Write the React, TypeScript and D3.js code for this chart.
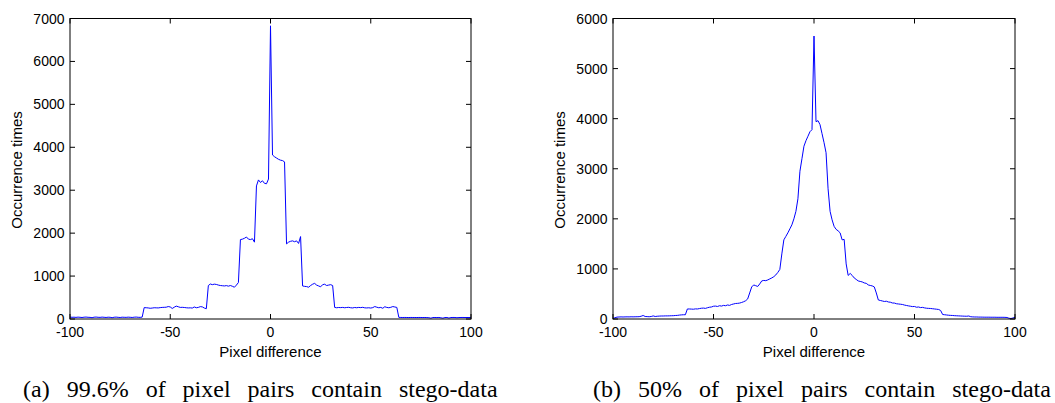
import React from "react";
import * as d3 from "d3";

// Pixel differences -100..100 (integer steps)
const xMin = -100;
const xMax = 100;

// (a) 99.6% of pixel pairs contain stego-data
const countsA: number[] = [
  // -100 .. -64
  45, 40, 42, 38, 44, 40, 35, 42, 45, 40, 38, 30, 42, 45, 40, 38, 44, 40, 36, 42,
  40, 30, 41, 44, 39, 35, 42, 40, 38, 43, 40, 36, 42, 45, 40, 38, 44,
  // -63 .. -32
  265, 262, 258, 250, 255, 262, 260, 258, 265, 270, 272, 275, 290, 280, 245, 275,
  300, 285, 270, 272, 268, 262, 258, 260, 255, 280, 262, 270, 288, 282, 255, 240,
  // -31 .. -16
  780, 815, 800, 812, 805, 790, 780, 775, 770, 778, 765, 780, 762, 740, 790, 850,
  // -15 .. -8
  1850, 1860, 1880, 1910, 1860, 1850, 1870, 1790,
  // -7 .. -1
  3100, 3240, 3180, 3220, 3160, 3150, 3260,
  // 0
  6830,
  // 1 .. 7
  3820, 3780, 3750, 3720, 3700, 3690, 3660,
  // 8 .. 15
  1750, 1790, 1810, 1820, 1800, 1820, 1760, 1920,
  // 16 .. 31
  770, 760, 755, 740, 780, 810, 830, 790, 770, 750, 800, 810, 780, 790, 800, 780,
  // 32 .. 63
  270, 262, 268, 265, 270, 262, 268, 272, 262, 258, 268, 262, 270, 265, 272, 260,
  258, 262, 255, 265, 290, 275, 262, 270, 250, 285, 270, 262, 272, 290, 280, 270,
  // 64 .. 100
  38, 36, 35, 36, 35, 34, 36, 35, 35, 34, 36, 35, 34, 35, 33, 30, 20, 34, 35, 33,
  36, 28, 20, 34, 35, 22, 34, 36, 35, 30, 34, 35, 36, 34, 35, 34, 36,
];

// (b) 50% of pixel pairs contain stego-data
const countsB: number[] = [
  // -100 .. -64
  10, 25, 38, 40, 42, 40, 42, 43, 42, 44, 43, 44, 45, 46, 55, 70, 50, 48, 45, 50,
  62, 50, 55, 58, 60, 60, 62, 62, 63, 65, 66, 70, 72, 78, 82, 85, 85,
  // -63 .. -32
  200, 200, 198, 195, 202, 200, 208, 215, 218, 212, 225, 235, 240, 255, 258, 250,
  265, 258, 272, 265, 280, 272, 290, 300, 310, 312, 318, 330, 345, 365, 400, 520,
  // -31 .. -16
  640, 680, 665, 650, 700, 760, 770, 765, 780, 800, 820, 845, 880, 930, 990, 1300,
  // -15 .. -1
  1580, 1650, 1720, 1800, 1880, 2000, 2150, 2400, 2950, 3200, 3450, 3560, 3650, 3740, 3780,
  // 0
  5650,
  // 1 .. 15
  3940, 3960, 3880, 3700, 3520, 3320, 2600, 2150, 1980, 1850, 1790, 1760, 1720, 1580, 1590,
  // 16 .. 31
  1100, 870, 910, 870, 820, 790, 760, 750, 740, 720, 712, 680, 670, 660, 640, 520,
  // 32 .. 63
  380, 370, 360, 350, 355, 340, 335, 320, 318, 305, 300, 295, 290, 278, 270, 262,
  255, 248, 250, 235, 240, 228, 232, 222, 215, 212, 210, 205, 200, 195, 190, 170,
  // 64 .. 100
  90, 85, 80, 75, 72, 70, 66, 64, 62, 60, 58, 56, 55, 60, 45, 42, 40, 40, 38, 38,
  37, 36, 36, 36, 35, 35, 35, 34, 34, 34, 34, 33, 30, 15, 10, 20, 35,
];

const xTicks = [-100, -50, 0, 50, 100];
const yTicksA = [0, 1000, 2000, 3000, 4000, 5000, 6000, 7000];
const yTicksB = [0, 1000, 2000, 3000, 4000, 5000, 6000];
const yMaxA = 7000;
const yMaxB = 6000;

const xLabel = "Pixel difference";
const yLabel = "Occurrence times";
const captionA = "(a) 99.6% of pixel pairs contain stego-data";
const captionB = "(b) 50% of pixel pairs contain stego-data";

const SANS = "'Liberation Sans', Arial, Helvetica, sans-serif";
const SERIF = "'Liberation Serif', 'Times New Roman', serif";

type PanelProps = {
  left: number;
  right: number;
  values: number[];
  yMax: number;
  yTicks: number[];
  yLabelX: number;
  caption: string;
  captionX: number;
};

function Panel({ left, right, values, yMax, yTicks, yLabelX, caption, captionX }: PanelProps) {
  const top = 18.5;
  const bottom = 319;
  const x = d3.scaleLinear().domain([xMin, xMax]).range([left, right]);
  const y = d3.scaleLinear().domain([0, yMax]).range([bottom, top]);
  const data = values.map((v, i) => ({ px: xMin + i, v }));
  const line = d3
    .line<{ px: number; v: number }>()
    .x((d) => x(d.px))
    .y((d) => y(d.v));
  const tl = 5;
  return (
    <g>
      <path d={line(data) || ""} fill="none" stroke="#0000ff" strokeWidth={1} />
      <rect
        x={left}
        y={top}
        width={right - left}
        height={bottom - top}
        fill="none"
        stroke="#000"
        strokeWidth={1}
      />
      {xTicks.map((t) => (
        <g key={"x" + t}>
          <line x1={x(t)} x2={x(t)} y1={bottom} y2={bottom - tl} stroke="#000" />
          <line x1={x(t)} x2={x(t)} y1={top} y2={top + tl} stroke="#000" />
          <text
            x={x(t)}
            y={337}
            textAnchor="middle"
            fontFamily={SANS}
            fontSize={14}
            fill="#000"
          >
            {t}
          </text>
        </g>
      ))}
      {yTicks.map((t) => (
        <g key={"y" + t}>
          <line x1={left} x2={left + tl} y1={y(t)} y2={y(t)} stroke="#000" />
          <line x1={right} x2={right - tl} y1={y(t)} y2={y(t)} stroke="#000" />
          <text
            x={left - 5.5}
            y={y(t)}
            dy="0.36em"
            textAnchor="end"
            fontFamily={SANS}
            fontSize={14}
            fill="#000"
          >
            {t}
          </text>
        </g>
      ))}
      <text
        x={(left + right) / 2}
        y={357}
        textAnchor="middle"
        fontFamily={SANS}
        fontSize={15}
        fill="#000"
      >
        {xLabel}
      </text>
      <text
        transform={`translate(${yLabelX},170) rotate(-90)`}
        textAnchor="middle"
        dy="0.35em"
        fontFamily={SANS}
        fontSize={15}
        fill="#000"
      >
        {yLabel}
      </text>
      <text
        x={captionX}
        y={397}
        fontFamily={SERIF}
        fontSize={24}
        fill="#000"
        style={{ wordSpacing: "11px" }}
      >
        {caption}
      </text>
    </g>
  );
}

export default function App() {
  return (
    <svg
      width={1055}
      height={403}
      style={{ position: "absolute", left: 0, top: 0, background: "#fff" }}
    >
      <rect x={0} y={0} width={1055} height={403} fill="#fff" />
      <Panel
        left={70}
        right={471}
        values={countsA}
        yMax={yMaxA}
        yTicks={yTicksA}
        yLabelX={17}
        caption={captionA}
        captionX={23}
      />
      <Panel
        left={613}
        right={1015}
        values={countsB}
        yMax={yMaxB}
        yTicks={yTicksB}
        yLabelX={560}
        caption={captionB}
        captionX={593}
      />
    </svg>
  );
}
